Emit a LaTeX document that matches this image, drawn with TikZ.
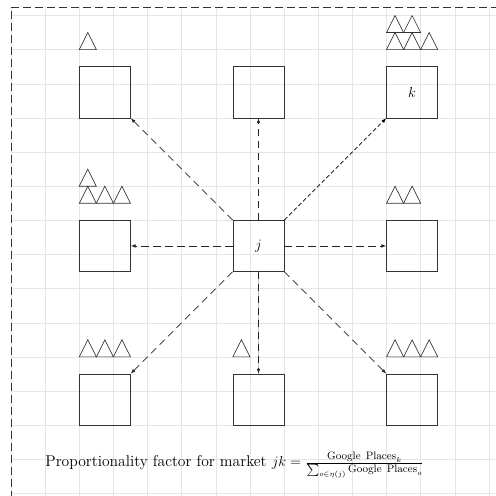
\documentclass[tikz,border=0pt]{standalone}
\usetikzlibrary{arrows.meta}
\begin{document}
\begin{tikzpicture}[x=0.5cm,y=0.5cm,
  gridline/.style={draw=black!10,line width=0.4pt},
  box/.style={draw=black!80,line width=0.55pt,minimum size=1.5cm,inner sep=0pt,font=\large},
  tri/.style={draw=black!80,line width=0.55pt},
  link/.style={draw=black!85,line width=0.6pt,dash pattern=on 6pt off 4pt,-{Latex[length=4pt,width=3pt]}},
  frame/.style={draw=black!80,line width=0.55pt,dash pattern=on 6pt off 4pt}]
\clip (-0.644,0.908) rectangle (28.41,-28.15);
\useasboundingbox (-0.644,0.908) rectangle (28.41,-28.15);
\draw[gridline] (0,0.5) grid (29,-29);
\draw[frame] (0,-29) -- (0,0.5) -- (29,0.5);
% boxes
\node[box] (tl) at (5.5,-4.5) {};
\node[box] (tm) at (14.5,-4.5) {};
\node[box] (k) at (23.5,-4.5) {$k$};
\node[box] (ml) at (5.5,-13.5) {};
\node[box] (j) at (14.5,-13.5) {$j$};
\node[box] (mr) at (23.5,-13.5) {};
\node[box] (bl) at (5.5,-22.5) {};
\node[box] (bm) at (14.5,-22.5) {};
\node[box] (br) at (23.5,-22.5) {};
% triangles
\newcommand\mytri[2]{\draw[tri] (#1,#2) -- ++(1,0) -- ++(-0.5,1) -- cycle;}
\mytri{4}{-2}
\mytri{22}{-2}\mytri{23}{-2}\mytri{24}{-2}\mytri{22}{-1}\mytri{23}{-1}
\mytri{4}{-11}\mytri{5}{-11}\mytri{6}{-11}\mytri{4}{-10}
\mytri{22}{-11}\mytri{23}{-11}
\mytri{4}{-20}\mytri{5}{-20}\mytri{6}{-20}
\mytri{13}{-20}
\mytri{22}{-20}\mytri{23}{-20}\mytri{24}{-20}
% connectors
\draw[link] (j) -- (tl);
\draw[link] (j) -- (tm);
\draw[link,draw=black,dash pattern=on 3.5pt off 2pt] (j) -- (k);
\draw[link] (j) -- (ml);
\draw[link] (j) -- (mr);
\draw[link] (j) -- (bl);
\draw[draw=black!25,line width=0.3pt] (j) -- (bm);
\draw[link] (j) -- (bm);
\draw[link] (j) -- (br);
% caption
\node[anchor=base west,inner sep=0pt,font=\fontsize{13}{15}\selectfont] (cap) at (2,-26.45)
  {Proportionality factor for market $jk = \frac{\mathrm{Google\ Places}_k}{\sum_{o\in\eta(j)}\mathrm{Google\ Places}_o}$};
\end{tikzpicture}
\end{document}
